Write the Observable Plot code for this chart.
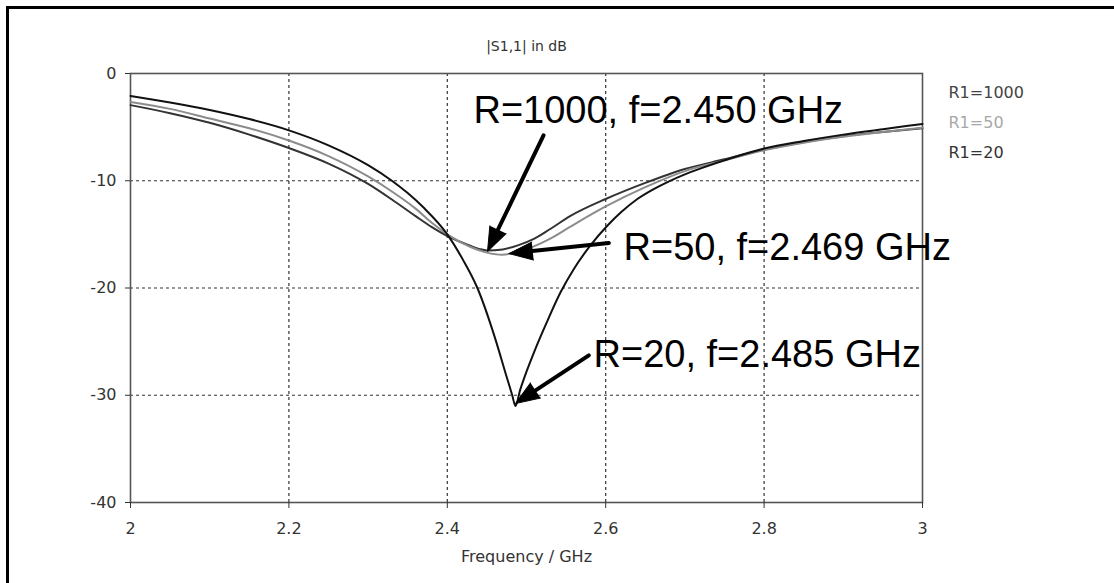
<!DOCTYPE html>
<html>
<head>
<meta charset="utf-8">
<script src="https://cdn.jsdelivr.net/npm/d3@7"></script>
<script src="https://cdn.jsdelivr.net/npm/@observablehq/plot@0.6"></script>
<style>
  html, body { margin: 0; padding: 0; background: #fff; }
  #chart { position: relative; width: 1114px; height: 583px; overflow: hidden; background: #fff; }
  #border { position: absolute; left: 6px; top: 6px; width: 1200px; height: 700px;
            border-left: 3px solid #000; border-top: 3px solid #000; pointer-events: none; }
</style>
</head>
<body>
<div id="chart"><div id="border"></div></div>
<script>
// ---------- data ----------
const seriesNames = ["R1=1000", "R1=50", "R1=20"];
const seriesColors = ["#333333", "#8c8c8c", "#111111"];
const legendColors = ["#444444", "#a8a8a8", "#333333"];

const freqR1000 = [2.00, 2.05, 2.10, 2.15, 2.20, 2.25, 2.30, 2.33, 2.36, 2.38, 2.40, 2.42, 2.44, 2.45, 2.47, 2.49, 2.51, 2.53, 2.555, 2.60, 2.65, 2.70, 2.75, 2.80, 2.85, 2.90, 2.95, 3.00];
const dbR1000   = [-2.95, -3.7, -4.6, -5.7, -6.95, -8.4, -10.3, -11.75, -13.3, -14.3, -15.15, -15.8, -16.35, -16.5, -16.4, -16.0, -15.4, -14.5, -13.3, -11.7, -10.2, -8.9, -8.0, -7.1, -6.4, -5.85, -5.45, -5.1];

const freqR50 = [2.00, 2.05, 2.10, 2.15, 2.20, 2.25, 2.30, 2.33, 2.36, 2.38, 2.40, 2.43, 2.45, 2.469, 2.49, 2.51, 2.53, 2.555, 2.60, 2.65, 2.70, 2.75, 2.80, 2.85, 2.90, 2.95, 3.00];
const dbR50   = [-2.65, -3.3, -4.2, -5.1, -6.25, -7.7, -9.6, -11.0, -12.6, -13.9, -15.0, -16.2, -16.7, -16.9, -16.6, -16.1, -15.4, -14.3, -12.4, -10.6, -9.1, -8.1, -7.15, -6.45, -5.9, -5.45, -5.05];

const freqR20 = [2.00, 2.05, 2.10, 2.15, 2.20, 2.25, 2.30, 2.33, 2.35, 2.37, 2.40, 2.42, 2.438, 2.46, 2.475, 2.482, 2.486, 2.492, 2.50, 2.51, 2.525, 2.543, 2.56, 2.58, 2.602, 2.62, 2.64, 2.66, 2.68, 2.70, 2.72, 2.76, 2.80, 2.85, 2.90, 2.95, 3.00];
const dbR20   = [-2.1, -2.7, -3.4, -4.25, -5.3, -6.7, -8.55, -10.0, -11.15, -12.5, -15.0, -17.4, -20.0, -24.6, -28.3, -30.0, -31.0, -29.5, -27.8, -25.9, -23.3, -20.4, -18.2, -16.1, -14.2, -12.9, -11.7, -10.8, -10.05, -9.4, -8.85, -7.85, -7.0, -6.3, -5.7, -5.2, -4.7];

const xTicks = [2, 2.2, 2.4, 2.6, 2.8, 3];
const yTicks = [0, -10, -20, -30, -40];
const xGrid = [2.2, 2.4, 2.6, 2.8];
const yGrid = [-10, -20, -30];

const titleText = "|S1,1| in dB";
const xLabelText = "Frequency / GHz";

const labelTexts = ["R=1000, f=2.450 GHz", "R=50, f=2.469 GHz", "R=20, f=2.485 GHz"];
const labelX = [2.433, 2.6225, 2.5846];
const labelY = [-4.64, -17.42, -27.4];

const arrowX1 = [2.5215, 2.604, 2.5787];
const arrowY1 = [-5.76, -15.8, -26.28];
const arrowX2 = [2.4508, 2.4777, 2.4861];
const arrowY2 = [-16.58, -16.79, -30.78];

// ---------- tables ----------
const series = [
  freqR1000.map((f, i) => ({f, db: dbR1000[i]})),
  freqR50.map((f, i) => ({f, db: dbR50[i]})),
  freqR20.map((f, i) => ({f, db: dbR20[i]}))
];
const labels = labelTexts.map((t, i) => ({t, x: labelX[i], y: labelY[i]}));
const arrows = arrowX1.map((x1, i) => ({x1, y1: arrowY1[i], x2: arrowX2[i], y2: arrowY2[i]}));

const baseOpts = {
  width: 1114, height: 583,
  marginLeft: 130, marginRight: 192, marginTop: 73, marginBottom: 81,
  x: {domain: [2, 3]},
  y: {domain: [-40, 0]},
  style: {fontFamily: "DejaVu Sans", fontSize: "16px", color: "#333", background: "transparent", overflow: "visible"}
};

// scout plot to obtain scales for arrow head orientation
const scout = Plot.plot({...baseOpts, marks: [Plot.frame()]});
const sx = scout.scale("x"), sy = scout.scale("y");
const heads = arrows.map(a => {
  const dx = sx.apply(a.x2) - sx.apply(a.x1);
  const dy = sy.apply(a.y2) - sy.apply(a.y1);
  return {...a, rot: Math.atan2(dx, -dy) * 180 / Math.PI};
});

const marks = [
  Plot.gridX({ticks: xGrid, stroke: "#111", strokeOpacity: 0.85, strokeWidth: 1.2, strokeDasharray: "3,3"}),
  Plot.gridY({ticks: yGrid, stroke: "#111", strokeOpacity: 0.85, strokeWidth: 1.2, strokeDasharray: "3,3"}),
  Plot.frame({stroke: "#555", strokeWidth: 1.6}),
  Plot.axisY({ticks: yTicks, tickSize: 5, tickPadding: 9, tickFormat: d => String(d), label: null, fontSize: 16, fill: "#333"}),
  Plot.axisX({ticks: xTicks, tickSize: 6, tickPadding: 14, tickFormat: d => String(d), label: null, fontSize: 16, fill: "#333"}),
  ...series.map((s, i) => Plot.line(s, {x: "f", y: "db", stroke: seriesColors[i], strokeWidth: 2, curve: "monotone-x"})),
  ...seriesNames.map((n, i) => Plot.text([n], {frameAnchor: "top-right", dx: 26, dy: 19 + 30 * i, textAnchor: "start", lineAnchor: "middle", fill: legendColors[i], fontSize: 16})),
  Plot.text([titleText], {frameAnchor: "top", dy: -27, lineAnchor: "middle", fontSize: 14, fill: "#333"}),
  Plot.text([xLabelText], {frameAnchor: "bottom", dy: 54, lineAnchor: "middle", fontSize: 16, fill: "#333"}),
  Plot.arrow(arrows, {x1: "x1", y1: "y1", x2: "x2", y2: "y2", stroke: "#000", strokeWidth: 4, headLength: 0, insetEnd: 14}),
  Plot.vector(heads, {x: "x2", y: "y2", rotate: "rot", length: 24, r: 9, shape: "spike", anchor: "end", fill: "#000", stroke: "#000", strokeWidth: 1}),
  Plot.text(labels, {x: "x", y: "y", text: "t", textAnchor: "start", lineAnchor: "bottom", fontFamily: "Liberation Sans", fontSize: 38, fill: "#000"})
];

const plot = Plot.plot({...baseOpts, marks});
plot.style.position = "absolute";
plot.style.left = "0px";
plot.style.top = "0px";
document.getElementById("chart").appendChild(plot);
</script>
</body>
</html>
